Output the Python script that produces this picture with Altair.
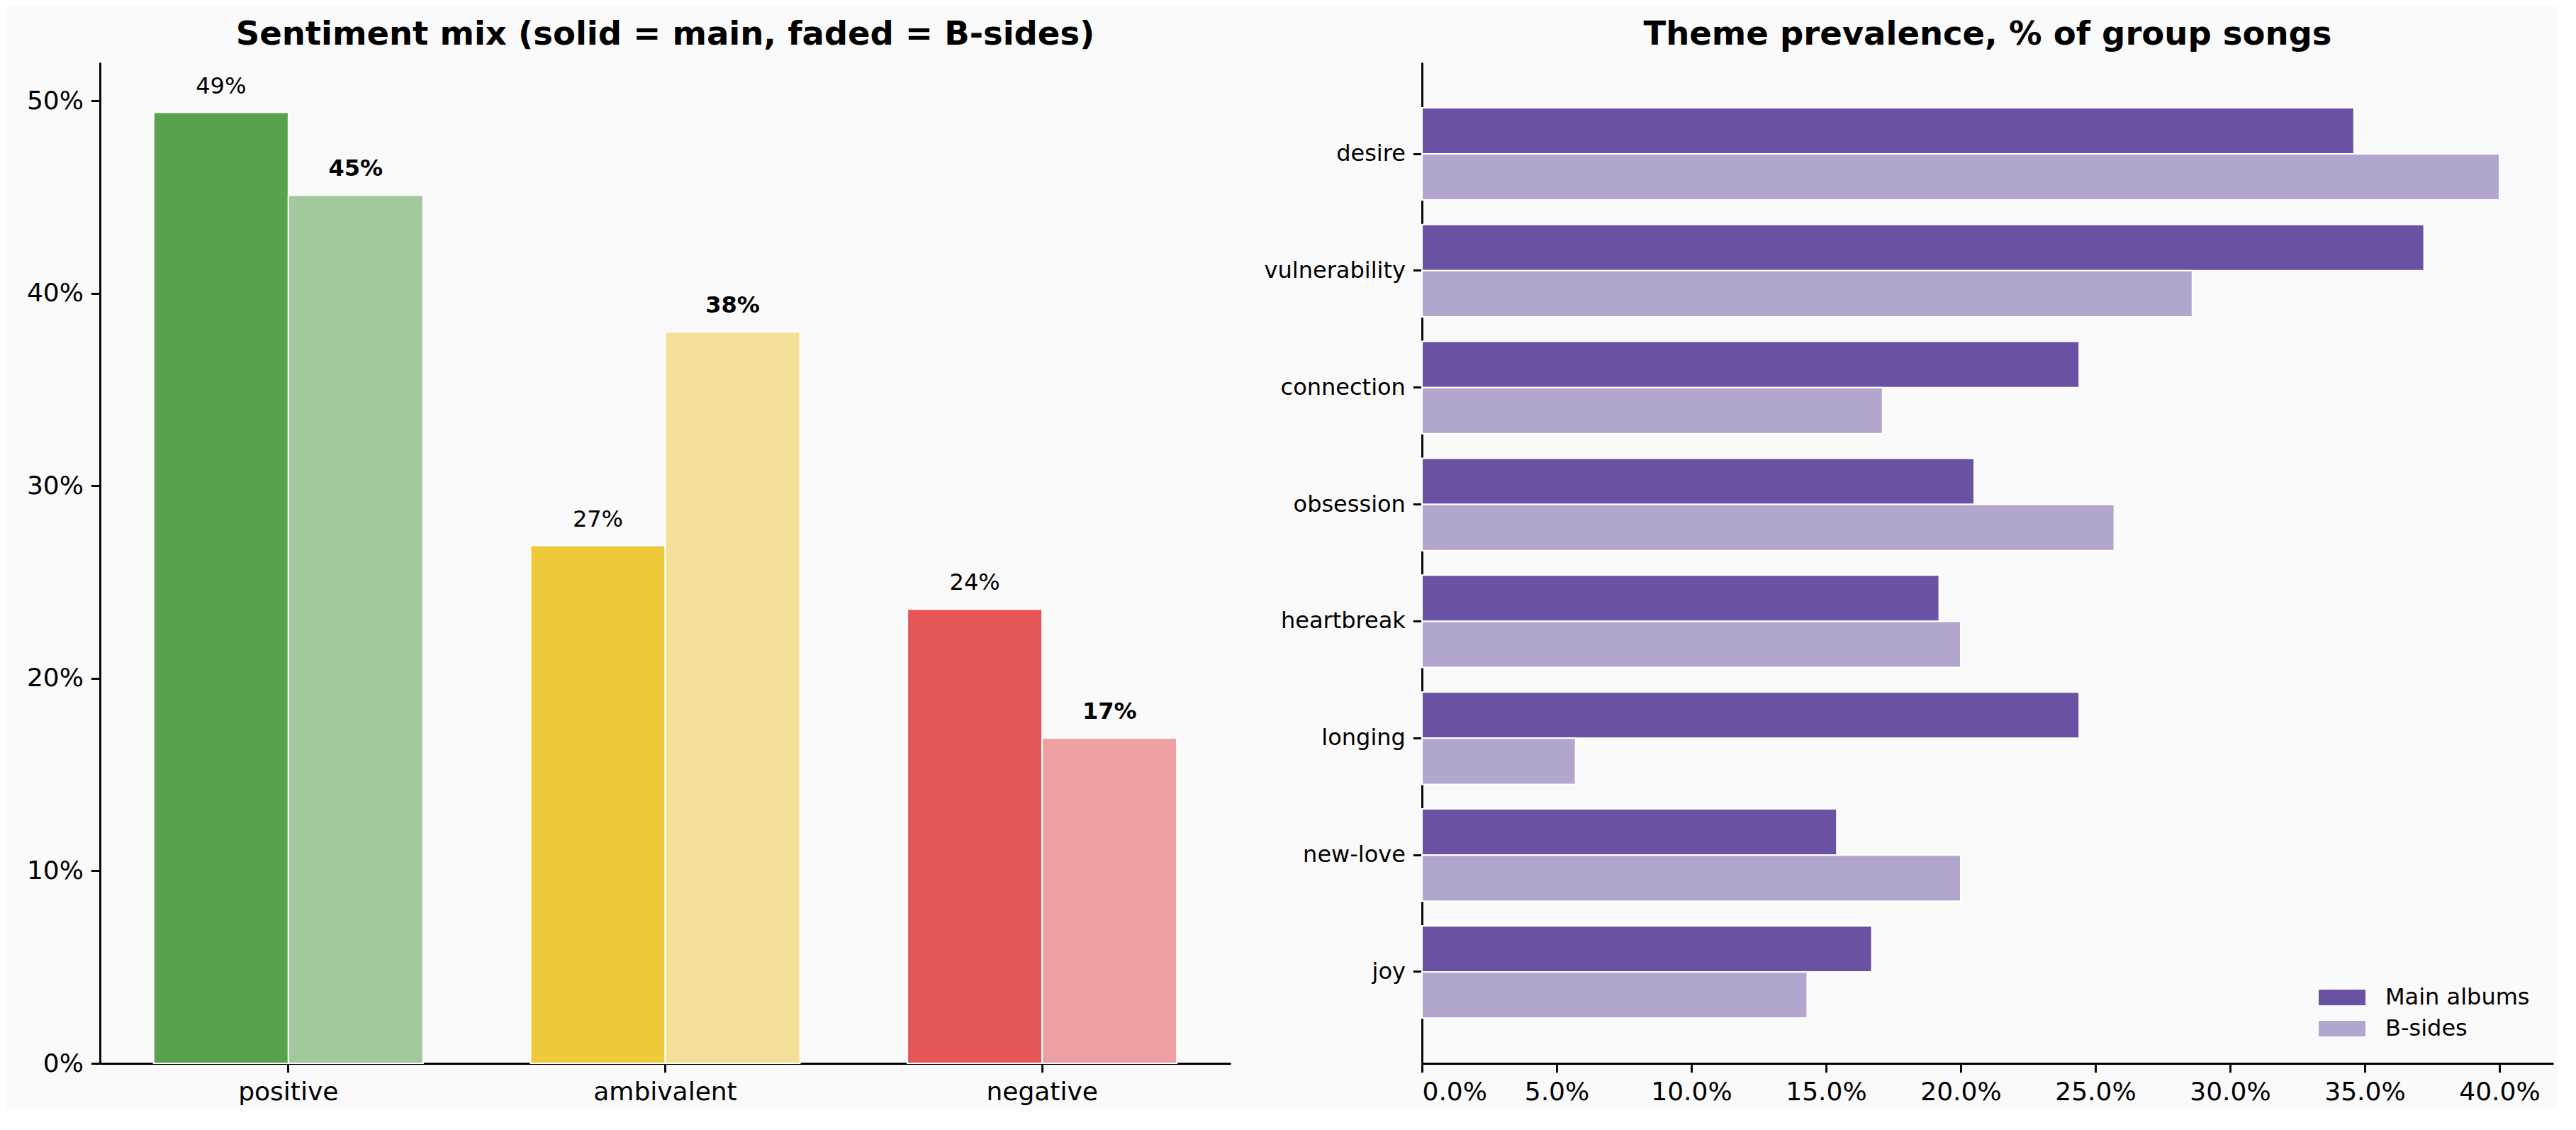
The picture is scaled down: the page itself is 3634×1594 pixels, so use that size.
import altair as alt
import pandas as pd

# ---- data ----
sentiments = ["positive", "ambivalent", "negative"]
sent_main = [0.494, 0.269, 0.236]
sent_bside = [0.451, 0.380, 0.169]
sent_color_main = ["#58a24d", "#eeca3b", "#e45756"]
sent_color_bside = ["#a1c99c", "#f3df98", "#eca0a1"]

themes = ["desire", "vulnerability", "connection", "obsession",
          "heartbreak", "longing", "new-love", "joy"]
theme_main = [0.346, 0.372, 0.244, 0.205, 0.192, 0.244, 0.154, 0.167]
theme_bside = [0.400, 0.286, 0.171, 0.257, 0.200, 0.057, 0.200, 0.143]
groups = ["Main albums", "B-sides"]
group_colors = ["#6a51a3", "#b2a6cf"]

FONT = "DejaVu Sans"
TICK_FS = 36
SMALL_FS = 32
TITLE_FS = 46.5

rows = []
for i, s in enumerate(sentiments):
    rows.append({"sentiment": s, "group": "main", "value": sent_main[i], "color": sent_color_main[i]})
    rows.append({"sentiment": s, "group": "bside", "value": sent_bside[i], "color": sent_color_bside[i]})
df_sent = pd.DataFrame(rows)

rows = []
for i, t in enumerate(themes):
    rows.append({"theme": t, "group": groups[0], "value": theme_main[i]})
    rows.append({"theme": t, "group": groups[1], "value": theme_bside[i]})
df_theme = pd.DataFrame(rows)

# ---- left panel ----
xs = alt.X("sentiment:N", sort=sentiments,
           scale=alt.Scale(paddingInner=0.285, paddingOuter=0.1425),
           axis=alt.Axis(title=None, labelAngle=0, labelFontSize=TICK_FS, labelLimit=0))
xo = alt.XOffset("group:N", sort=["main", "bside"],
                 scale=alt.Scale(domain=["main", "bside"], paddingInner=0, paddingOuter=0))
ys = alt.Y("value:Q", scale=alt.Scale(domain=[0, 0.52], nice=False),
           axis=alt.Axis(title=None, format=".0%", values=[0, 0.1, 0.2, 0.3, 0.4, 0.5],
                         labelFontSize=TICK_FS, labelLimit=0))

base_l = alt.Chart(df_sent)
bars_l = base_l.mark_bar(stroke="white", strokeWidth=2).encode(
    x=xs, xOffset=xo, y=ys, fill=alt.Fill("color:N", scale=None))
txt_main = base_l.transform_filter("datum.group == 'main'").mark_text(
    baseline="alphabetic", dy=-27, fontSize=SMALL_FS, font=FONT, color="black").encode(
    x=xs, xOffset=xo, y=ys, text=alt.Text("value:Q", format=".0%"))
txt_b = base_l.transform_filter("datum.group == 'bside'").mark_text(
    baseline="alphabetic", dy=-27, fontSize=SMALL_FS, font=FONT, fontWeight="bold",
    color="black").encode(
    x=xs, xOffset=xo, y=ys, text=alt.Text("value:Q", format=".0%"))

left = alt.layer(bars_l, txt_main, txt_b).properties(
    width=1595, height=1412,
    title=alt.TitleParams("Sentiment mix (solid = main, faded = B-sides)",
                          fontSize=TITLE_FS, fontWeight="bold", anchor="middle", offset=16))

# ---- right panel ----
right = alt.Chart(df_theme).mark_bar(stroke="white", strokeWidth=2).encode(
    y=alt.Y("theme:N", sort=themes,
            scale=alt.Scale(paddingInner=0.21, paddingOuter=0.3875),
            axis=alt.Axis(title=None, labelFontSize=SMALL_FS, labelLimit=0)),
    yOffset=alt.YOffset("group:N", sort=groups, scale=alt.Scale(domain=groups)),
    x=alt.X("value:Q", scale=alt.Scale(domain=[0, 0.42], nice=False),
            axis=alt.Axis(title=None, format=".1%",
                          values=[0, 0.05, 0.1, 0.15, 0.2, 0.25, 0.3, 0.35, 0.4],
                          labelFontSize=TICK_FS, labelLimit=0)),
    fill=alt.Fill("group:N", scale=alt.Scale(domain=groups, range=group_colors),
                  legend=alt.Legend(title=None, orient="bottom-right", offset=33,
                                    padding=0,
                                    symbolType="M-1.5,-0.5H1.5V0.5H-1.5Z",
                                    symbolSize=1936, symbolStrokeWidth=0,
                                    symbolOpacity=1, labelLimit=0,
                                    labelFontSize=SMALL_FS, labelOffset=39,
                                    rowPadding=6, labelColor="black")),
).properties(
    width=1596, height=1412,
    title=alt.TitleParams("Theme prevalence, % of group songs",
                          fontSize=TITLE_FS, fontWeight="bold", anchor="middle", offset=16))

chart = alt.hconcat(left, right, spacing=47).resolve_legend(fill="independent").resolve_scale(
    fill="independent").properties(
    padding={"left": 29, "top": 17, "right": 5, "bottom": 5},
    background="#fafafa",
).configure(font=FONT).configure_view(stroke=None).configure_axis(
    domainColor="black", domainWidth=2.9, tickColor="black", tickWidth=2.9,
    tickSize=12.6, labelPadding=11, labelColor="black", grid=False,
    labelFont=FONT, labelLimit=0, zindex=1,
).configure_title(font=FONT, color="black").configure_legend(labelFont=FONT)

chart.save("out.html", embed_options={"renderer": "svg", "actions": False})
